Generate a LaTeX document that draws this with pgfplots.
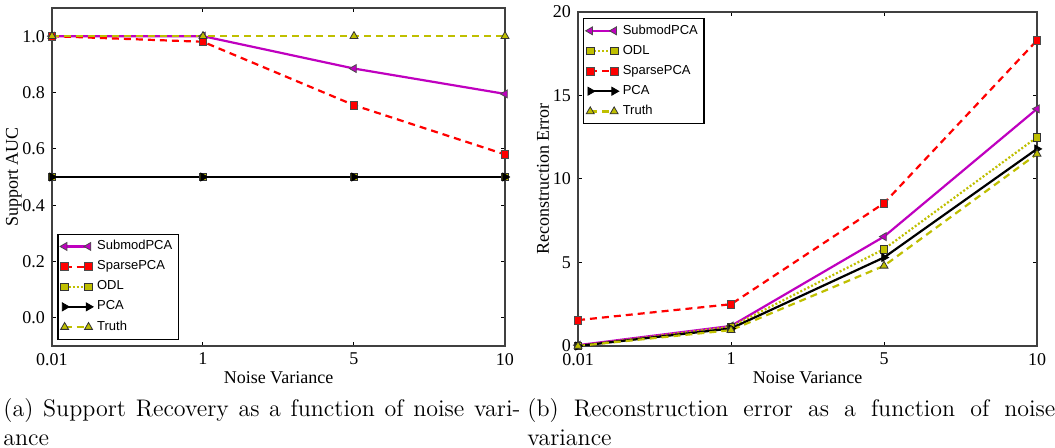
\documentclass[border=0pt]{standalone}
\usepackage{fontspec}
\usepackage{pgfplots}
\pgfplotsset{compat=1.18}
\newfontfamily\tnr{Liberation Serif}
\newfontfamily\arl{Liberation Sans}
\definecolor{mplm}{rgb}{0.75,0,0.75}
\definecolor{mply}{rgb}{0.75,0.75,0}

\pgfplotsset{
  paperax/.style={
    scale only axis,
    xmin=0, xmax=3,
    xtick={0,1,2,3}, xticklabels={0.01,1,5,10},
    tick align=inside, major tick length=2pt,
    tick style={black, line width=0.5pt},
    axis line style={black!75, line width=0.7pt},
    ticklabel style={font=\tnr\fontsize{9}{9}\selectfont},
    /pgf/number format/assume math mode=true,
    label style={font=\tnr\fontsize{9}{9}\selectfont},
    xlabel={Noise Variance},
    xlabel style={at={(axis description cs:0.5,0)}, anchor=center, yshift=-16pt},
    legend cell align=left,
    legend style={font=\arl\fontsize{6.5}{7}\selectfont, draw=black, line width=0.6pt,
      inner sep=1pt, row sep=0pt},
    legend image code/.code={\draw[#1] plot coordinates {(0cm,0cm) (0.42cm,0cm)};},
  },
  submod/.style={mplm, line width=1.1pt, mark=triangle*,
    mark options={rotate=90, solid, fill=mplm, draw=black!70, line width=0.4pt}, mark size=2.3pt},
  sparse/.style={red, line width=1.1pt, dash pattern=on 3.5pt off 2.5pt, mark=square*,
    mark options={solid, fill=red, draw=black!70, line width=0.4pt}, mark size=1.9pt},
  odl/.style={mply, line width=1.1pt, dash pattern=on 1pt off 1pt, mark=square*,
    mark options={solid, fill=mply, draw=black!80, line width=0.4pt}, mark size=1.9pt},
  pca/.style={black, line width=1.1pt, mark=triangle*,
    mark options={rotate=-90, solid, fill=black, draw=black, line width=0.4pt}, mark size=2.3pt},
  truth/.style={mply, line width=1.1pt, dash pattern=on 3.5pt off 2.5pt, mark=triangle*,
    mark options={solid, fill=mply, draw=black!80, line width=0.4pt}, mark size=2.3pt},
}

\begin{document}
\begin{tikzpicture}
\path[use as bounding box] (0,-51pt) rectangle (527.5pt,173pt);

% (a) support recovery
\begin{axis}[paperax,
    at={(26pt,0pt)}, anchor=south west,
    width=226.5pt, height=169pt,
    ymin=-0.1, ymax=1.1,
    ytick={0,0.2,0.4,0.6,0.8,1.0},
    yticklabel style={/pgf/number format/.cd, fixed, fixed zerofill, precision=1},
    ylabel={Support AUC},
    ylabel style={at={(axis description cs:-0.084,0.5)}, anchor=center},
    legend style={at={(0.012,0.018)}, anchor=south west},
]
\addplot[submod] coordinates {(0,1.0) (1,1.0) (2,0.885) (3,0.795)};
\addlegendentry{SubmodPCA}
\addplot[sparse] coordinates {(0,1.0) (1,0.98) (2,0.755) (3,0.58)};
\addlegendentry{SparsePCA}
\addplot[odl] coordinates {(0,0.5) (1,0.5) (2,0.5) (3,0.5)};
\addlegendentry{ODL}
\addplot[pca] coordinates {(0,0.5) (1,0.5) (2,0.5) (3,0.5)};
\addlegendentry{PCA}
\addplot[truth] coordinates {(0,1.0) (1,1.0) (2,1.0) (3,1.0)};
\addlegendentry{Truth}
\end{axis}

% (b) reconstruction error
\begin{axis}[paperax,
    at={(289pt,0pt)}, anchor=south west,
    width=229.5pt, height=167pt,
    ymin=0, ymax=20,
    ytick={0,5,10,15,20},
    ylabel={Reconstruction Error},
    ylabel style={at={(axis description cs:-0.076,0.5)}, anchor=center},
    legend style={at={(0.011,0.982)}, anchor=north west},
]
\addplot[submod] coordinates {(0,0.05) (1,1.2) (2,6.55) (3,14.2)};
\addlegendentry{SubmodPCA}
\addplot[odl] coordinates {(0,0.0) (1,1.15) (2,5.8) (3,12.5)};
\addlegendentry{ODL}
\addplot[sparse] coordinates {(0,1.55) (1,2.5) (2,8.55) (3,18.3)};
\addlegendentry{SparsePCA}
\addplot[pca] coordinates {(0,0.0) (1,1.05) (2,5.3) (3,11.8)};
\addlegendentry{PCA}
\addplot[truth] coordinates {(0,0.0) (1,0.95) (2,4.8) (3,11.5)};
\addlegendentry{Truth}
\end{axis}

\begin{scope}[every node/.style={anchor=base west, inner sep=0pt, font=\fontsize{12}{14.5}\selectfont}]
\node at (1.5pt,-35.5pt) {\hbox to 258.5pt{(a) Support Recovery as a function of noise vari-}};
\node at (1.5pt,-50pt) {ance};
\node at (263.5pt,-35.5pt) {\hbox to 264pt{(b) Reconstruction error as a function of noise}};
\node at (263.5pt,-50pt) {variance};
\end{scope}
\end{tikzpicture}
\end{document}
